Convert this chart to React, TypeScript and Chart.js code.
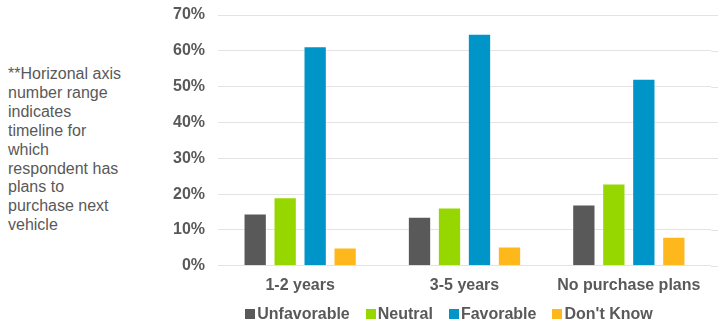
import React, { useEffect, useRef } from "react";
import { Chart, registerables } from "chart.js";

Chart.register(...registerables);

const categories = ["1-2 years", "3-5 years", "No purchase plans"];
const unfavorable = [14.6, 13.7, 17.1];
const neutral = [19.1, 16.3, 23.0];
const favorable = [61.3, 64.8, 52.2];
const dontKnow = [5.1, 5.4, 8.1];
const seriesNames = ["Unfavorable", "Neutral", "Favorable", "Don't Know"];
const seriesColors = ["#595959", "#97D700", "#0095C8", "#FFB81C"];
const yMin = 0;
const yMax = 70;
const yStep = 10;
const noteLines = [
  "**Horizonal axis",
  "number range",
  "indicates",
  "timeline for",
  "which",
  "respondent has",
  "plans to",
  "purchase next",
  "vehicle",
];

const FONT = "'Liberation Sans', Arial, Helvetica, sans-serif";
const TEXT = "#595959";
const GRID = "#E3E3E3";

const extendGrid = {
  id: "extendGrid",
  beforeDatasetsDraw(chart: any) {
    const { ctx, chartArea, scales, width } = chart;
    const y = scales.y;
    ctx.save();
    ctx.strokeStyle = GRID;
    ctx.lineWidth = 1;
    y.ticks.forEach((t: any) => {
      const py = Math.round(y.getPixelForValue(t.value)) + 0.5;
      ctx.beginPath();
      ctx.moveTo(chartArea.right, py);
      ctx.lineTo(width, py);
      ctx.stroke();
    });
    ctx.restore();
  },
};

export default function App() {
  const ref = useRef<HTMLCanvasElement | null>(null);

  useEffect(() => {
    if (!ref.current) return;
    const values = [unfavorable, neutral, favorable, dontKnow];
    const chart = new Chart(ref.current, {
      type: "bar",
      data: {
        labels: categories,
        datasets: seriesNames.map((name, i) => ({
          label: name,
          data: values[i],
          backgroundColor: seriesColors[i],
          borderColor: "rgba(255,255,255,0.35)",
          borderWidth: 1,
          categoryPercentage: 0.73,
          barPercentage: 0.777,
        })),
      },
      options: {
        responsive: false,
        animation: false,
        devicePixelRatio: 1,
        layout: { padding: { left: 0, right: 7, top: 15, bottom: 19 } },
        plugins: {
          legend: { display: false },
          tooltip: { enabled: false },
        },
        scales: {
          x: {
            grid: { display: false, drawTicks: false },
            border: { display: false },
            ticks: {
              color: TEXT,
              padding: 10,
              font: { family: FONT, size: 16, weight: "bold" },
              maxRotation: 0,
            },
          },
          y: {
            min: yMin,
            max: yMax,
            grid: { color: GRID, lineWidth: 1, drawTicks: false },
            border: { display: false },
            afterFit: (scale: any) => {
              scale.width = 48;
              scale.paddingTop = 0;
            },
            ticks: {
              stepSize: yStep,
              color: TEXT,
              padding: 13,
              font: { family: FONT, size: 16, weight: "bold" },
              callback: (v: any) => v + "%",
            },
          },
        },
      },
      plugins: [extendGrid],
    });
    return () => chart.destroy();
  }, []);

  return (
    <div
      style={{
        position: "fixed",
        left: 0,
        top: 0,
        width: 718,
        height: 324,
        background: "#fff",
        overflow: "hidden",
        fontFamily: FONT,
      }}
    >
      <div
        style={{
          position: "absolute",
          left: 8,
          top: 65,
          fontSize: 16,
          lineHeight: "18.9px",
          color: TEXT,
          whiteSpace: "nowrap",
        }}
      >
        {noteLines.map((l, i) => (
          <div key={i}>{l}</div>
        ))}
      </div>
      <div style={{ position: "absolute", left: 170, top: 0, width: 548, height: 324 }}>
        <canvas ref={ref} width={548} height={324} />
      </div>
      <div
        style={{
          position: "absolute",
          left: 180,
          width: 538,
          top: 304,
          height: 20,
          display: "flex",
          justifyContent: "center",
          alignItems: "center",
          gap: 16,
          fontSize: 16,
          fontWeight: "bold",
          color: TEXT,
        }}
      >
        {seriesNames.map((n, i) => (
          <div key={n} style={{ display: "flex", alignItems: "center" }}>
            <span
              style={{
                display: "inline-block",
                width: 10,
                height: 10,
                background: seriesColors[i],
                marginRight: 2,
              }}
            />
            <span>{n}</span>
          </div>
        ))}
      </div>
    </div>
  );
}
